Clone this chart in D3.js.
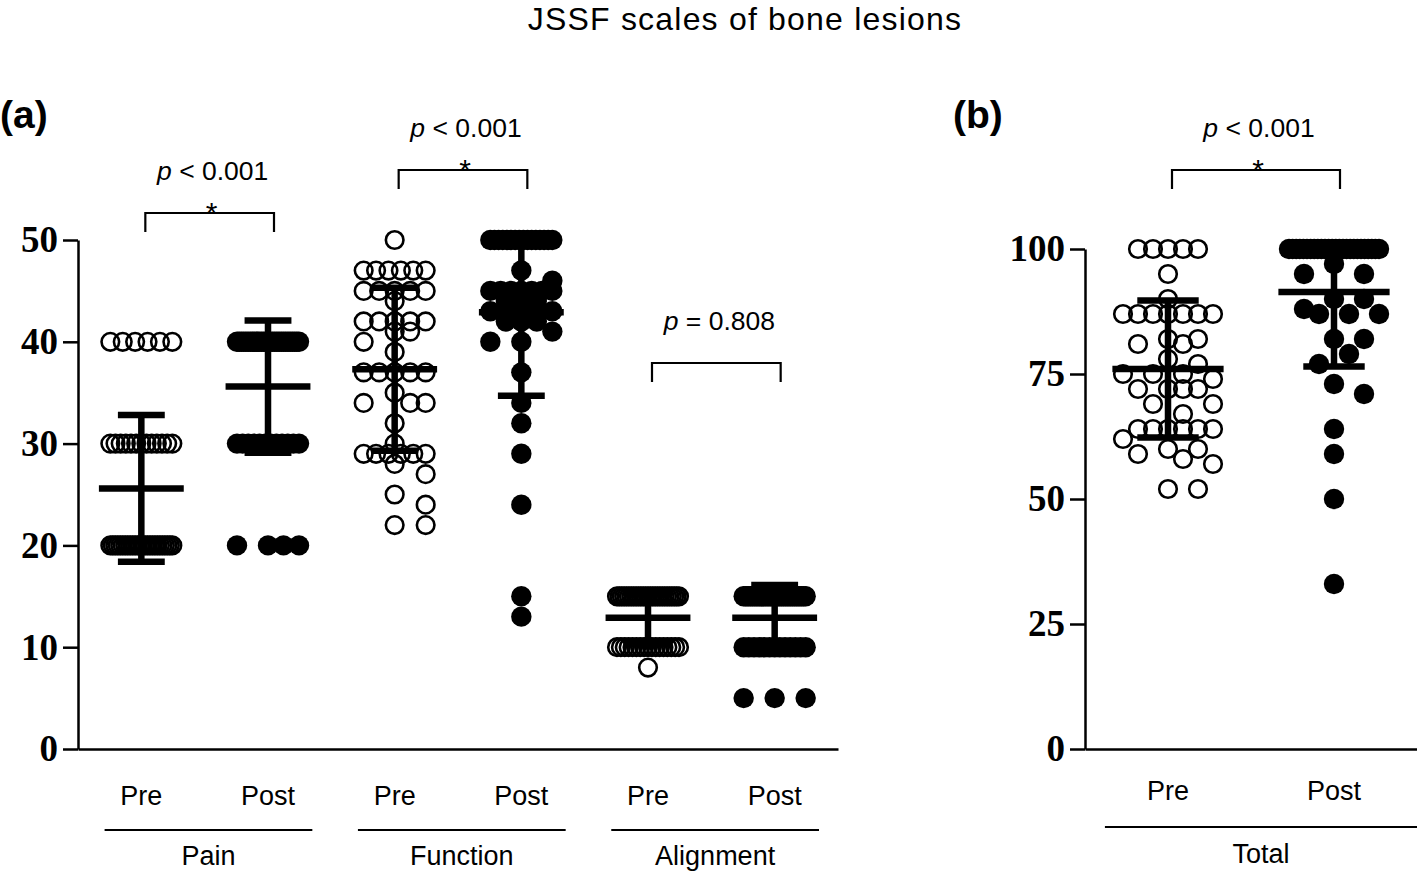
<!DOCTYPE html>
<html><head><meta charset="utf-8">
<script src="https://cdn.jsdelivr.net/npm/d3@7"></script>
<style>body{margin:0;background:#fff}svg{display:block}</style>
</head><body>
<svg id="chart" width="1417" height="871"></svg>
<script>
// ---------- DATA ----------
const title = "JSSF scales of bone lesions";
const categoriesA = ["Pain Pre","Pain Post","Function Pre","Function Post","Alignment Pre","Alignment Post"];
const xLabelsA = ["Pre","Post","Pre","Post","Pre","Post"];
const groupLabelsA = ["Pain","Function","Alignment"];
const yTicksA = [0,10,20,30,40,50];
const categoriesB = ["Pre","Post"];
const groupLabelB = "Total";
const yTicksB = [0,25,50,75,100];

const painPre = [].concat(Array(6).fill(40), Array(13).fill(30), Array(26).fill(20));
const painPost = [].concat(Array(29).fill(40), Array(12).fill(30), Array(4).fill(20));
const functionPre = [50,47,47,47,47,47,47,45,45,45,45,45,44,42,42,42,42,42,41,41,40,39,
  37,37,37,37,37,35,34,34,34,32,30,29,29,29,29,29,29,28,27,25,24,22,22];
const functionPost = [50,50,50,50,50,50,50,50,50,50,50,50,50,50,50,50,47,46,45,45,45,45,45,45,45,
  44,44,44,43,43,43,43,42,42,42,41,40,40,37,34,32,29,24,15,13];
const alignmentPre = [].concat(Array(27).fill(15), Array(17).fill(10), [8]);
const alignmentPost = [].concat(Array(29).fill(15), Array(13).fill(10), Array(3).fill(5));
const totalPre = [100,100,100,100,100,95,90,87,87,87,87,87,87,87,82,82,81,81,78,77,75,75,75,74,
  72,72,72,72,69,69,67,64,64,64,64,64,64,62,60,60,59,58,57,52,52];
const totalPost = [].concat(Array(26).fill(100), [97,95,95,90,90,88,87,87,87,82,82,79,77,73,71,64,59,50,33]);

const meansA = [25.6, 35.6, 37.3, 42.9, 12.9, 12.9];
const sdsA   = [7.2, 6.5, 8.0, 8.2, 2.6, 3.2];
const meansB = [76.0, 91.4];
const sdsB   = [13.7, 14.9];

const pLabelsA = ["< 0.001", "< 0.001", "= 0.808"];
const starsA = [true, true, false];
const pLabelB = "< 0.001";
const starB = true;

// ---------- LAYOUT ----------
const svg = d3.select("#chart");
const sans = "'Liberation Sans', Arial, Helvetica, sans-serif";
const serif = "'Liberation Serif', 'Times New Roman', serif";

svg.append("text").attr("x", 745).attr("y", 30).attr("text-anchor","middle")
  .attr("font-family", sans).attr("font-size", 32).attr("letter-spacing", 1.2).text(title);

function swarm(values, cx, y, slot, maxK, r) {
  const placed = [];
  const slots = [0];
  for (let k = 1; k <= maxK; k++) slots.push(k, -k);
  const half = maxK * slot;
  const groups = Array.from(d3.rollup(values, v => v.length, d => d)).sort((a,b) => b[0]-a[0]);
  for (const [val, n] of groups) {
    const py = y(val);
    if (n > 2*maxK + 1) {
      for (let i = 0; i < n; i++) placed.push({v: val, x: cx - half + 2*half*i/(n-1), y: py});
      continue;
    }
    for (let i = 0; i < n; i++) {
      let best = cx, bestScore = -Infinity;
      for (const k of slots) {
        const px = cx + k*slot;
        let md = Infinity;
        for (const p of placed) md = Math.min(md, Math.hypot(p.x-px, p.y-py));
        const score = md >= 2*r ? 1e6 - Math.abs(k) : md;
        if (score > bestScore) { bestScore = score; best = px; }
      }
      placed.push({v: val, x: best, y: py});
    }
  }
  return placed;
}

function drawPanel(cfg) {
  const g = svg.append("g");
  const x = d3.scalePoint().domain(cfg.categories).range([cfg.x0, cfg.x1]).padding(0.5);
  const y = d3.scaleLinear().domain([0, cfg.yMax]).range([749, cfg.yTop]);
  const step = x.step();

  // y axis
  const ya = g.append("g").attr("transform", `translate(${cfg.x0},0)`)
    .call(d3.axisLeft(y).tickValues(cfg.yTicks).tickSize(15).tickSizeOuter(0).tickPadding(5));
  ya.select(".domain").attr("stroke-width", 2.5);
  ya.selectAll(".tick line").attr("stroke-width", 2.5);
  ya.selectAll(".tick text").attr("font-family", serif).attr("font-weight", "bold")
    .attr("font-size", 37).attr("fill","#000");
  // x axis
  const xa = g.append("g").attr("transform", "translate(0,749)")
    .call(d3.axisBottom(x).tickValues([]).tickSizeOuter(0));
  xa.select(".domain").attr("stroke-width", 2.5);

  // points
  cfg.series.forEach((vals, i) => {
    const cx = x(cfg.categories[i]);
    const pts = swarm(vals, cx, y, cfg.slot, cfg.maxK, 10);
    const filled = cfg.filled[i];
    g.append("g").selectAll("circle").data(pts).join("circle")
      .attr("cx", d => d.x).attr("cy", d => d.y)
      .attr("r", filled ? 10.2 : 8.8)
      .attr("fill", filled ? "#000" : "none")
      .attr("stroke", filled ? "none" : "#000")
      .attr("stroke-width", 2.6);
  });

  // error bars (mean ± SD), clipped to the axis range
  const eb = g.append("g").attr("stroke", "#000").attr("stroke-width", 6.5);
  cfg.categories.forEach((c, i) => {
    const cx = x(c), m = cfg.means[i], s = cfg.sds[i];
    const lo = Math.max(0, m - s), hi = Math.min(cfg.yMax, m + s);
    const capW = step * 0.37, meanW = step * 0.67;
    eb.append("line").attr("x1", cx).attr("x2", cx).attr("y1", y(lo)).attr("y2", y(hi));
    if (m - s >= 0)
      eb.append("line").attr("x1", cx - capW/2).attr("x2", cx + capW/2).attr("y1", y(lo)).attr("y2", y(lo));
    if (m + s <= cfg.yMax)
      eb.append("line").attr("x1", cx - capW/2).attr("x2", cx + capW/2).attr("y1", y(hi)).attr("y2", y(hi));
    eb.append("line").attr("x1", cx - meanW/2).attr("x2", cx + meanW/2).attr("y1", y(m)).attr("y2", y(m));
  });

  // x labels
  cfg.categories.forEach((c, i) => {
    g.append("text").attr("x", x(c)).attr("y", cfg.xLabelY).attr("text-anchor","middle")
      .attr("font-family", sans).attr("font-size", 27).text(cfg.xLabels[i]);
  });

  // group underlines + labels
  cfg.groups.forEach((gl, j) => {
    const a = x(cfg.categories[2*j]), b = x(cfg.categories[2*j+1]);
    const l = a - step * cfg.ulLeft, r = Math.min(b + step * cfg.ulRight, 1417);
    g.append("line").attr("x1", l).attr("x2", r).attr("y1", cfg.ulY).attr("y2", cfg.ulY)
      .attr("stroke","#000").attr("stroke-width", 2.2);
    g.append("text").attr("x", (l + r)/2).attr("y", cfg.groupLabelY).attr("text-anchor","middle")
      .attr("font-family", sans).attr("font-size", 27).text(gl);
  });

  // significance brackets
  cfg.brackets.forEach((bk, j) => {
    const a = x(cfg.categories[2*j]) + 4, b = x(cfg.categories[2*j+1]) + 6;
    const by = bk.y;
    g.append("path").attr("d", `M${a},${by + 19}V${by}H${b}V${by + 19}`)
      .attr("fill","none").attr("stroke","#000").attr("stroke-width", 2.2);
    const t = g.append("text").attr("x", (a + b)/2 + 3).attr("y", by - 33).attr("text-anchor","middle")
      .attr("font-family", sans).attr("font-size", 26.5);
    t.append("tspan").attr("font-style","italic").text("p");
    t.append("tspan").text(" " + bk.label);
    if (bk.star) {
      g.append("text").attr("x", (a + b)/2 + 2).attr("y", by + 10).attr("text-anchor","middle")
        .attr("font-family", sans).attr("font-size", 30).text("*");
    }
  });

  svg.append("text").attr("x", cfg.tagX).attr("y", 128).attr("font-family", sans)
    .attr("font-weight","bold").attr("font-size", 39).text(cfg.tag);
}

drawPanel({
  categories: categoriesA, xLabels: xLabelsA, groups: groupLabelsA,
  x0: 78, x1: 838, yTop: 240, yMax: 50, yTicks: yTicksA,
  series: [painPre, painPost, functionPre, functionPost, alignmentPre, alignmentPost],
  filled: [false, true, false, true, false, true],
  means: meansA, sds: sdsA, slot: 15.5, maxK: 2,
  xLabelY: 805, ulY: 830, ulLeft: 0.29, ulRight: 0.35, groupLabelY: 865,
  brackets: pLabelsA.map((l, i) => ({label: l, star: starsA[i], y: [213, 170, 363][i]})),
  tag: "(a)", tagX: 0
});

drawPanel({
  categories: categoriesB, xLabels: categoriesB, groups: [groupLabelB],
  x0: 1085, x1: 1417, yTop: 249, yMax: 100, yTicks: yTicksB,
  series: [totalPre, totalPost],
  filled: [false, true],
  means: meansB, sds: sdsB, slot: 15, maxK: 3,
  xLabelY: 800, ulY: 827, ulLeft: 0.38, ulRight: 0.5, groupLabelY: 863,
  brackets: [{label: pLabelB, star: starB, y: 170}],
  tag: "(b)", tagX: 953
});
</script>
</body></html>
